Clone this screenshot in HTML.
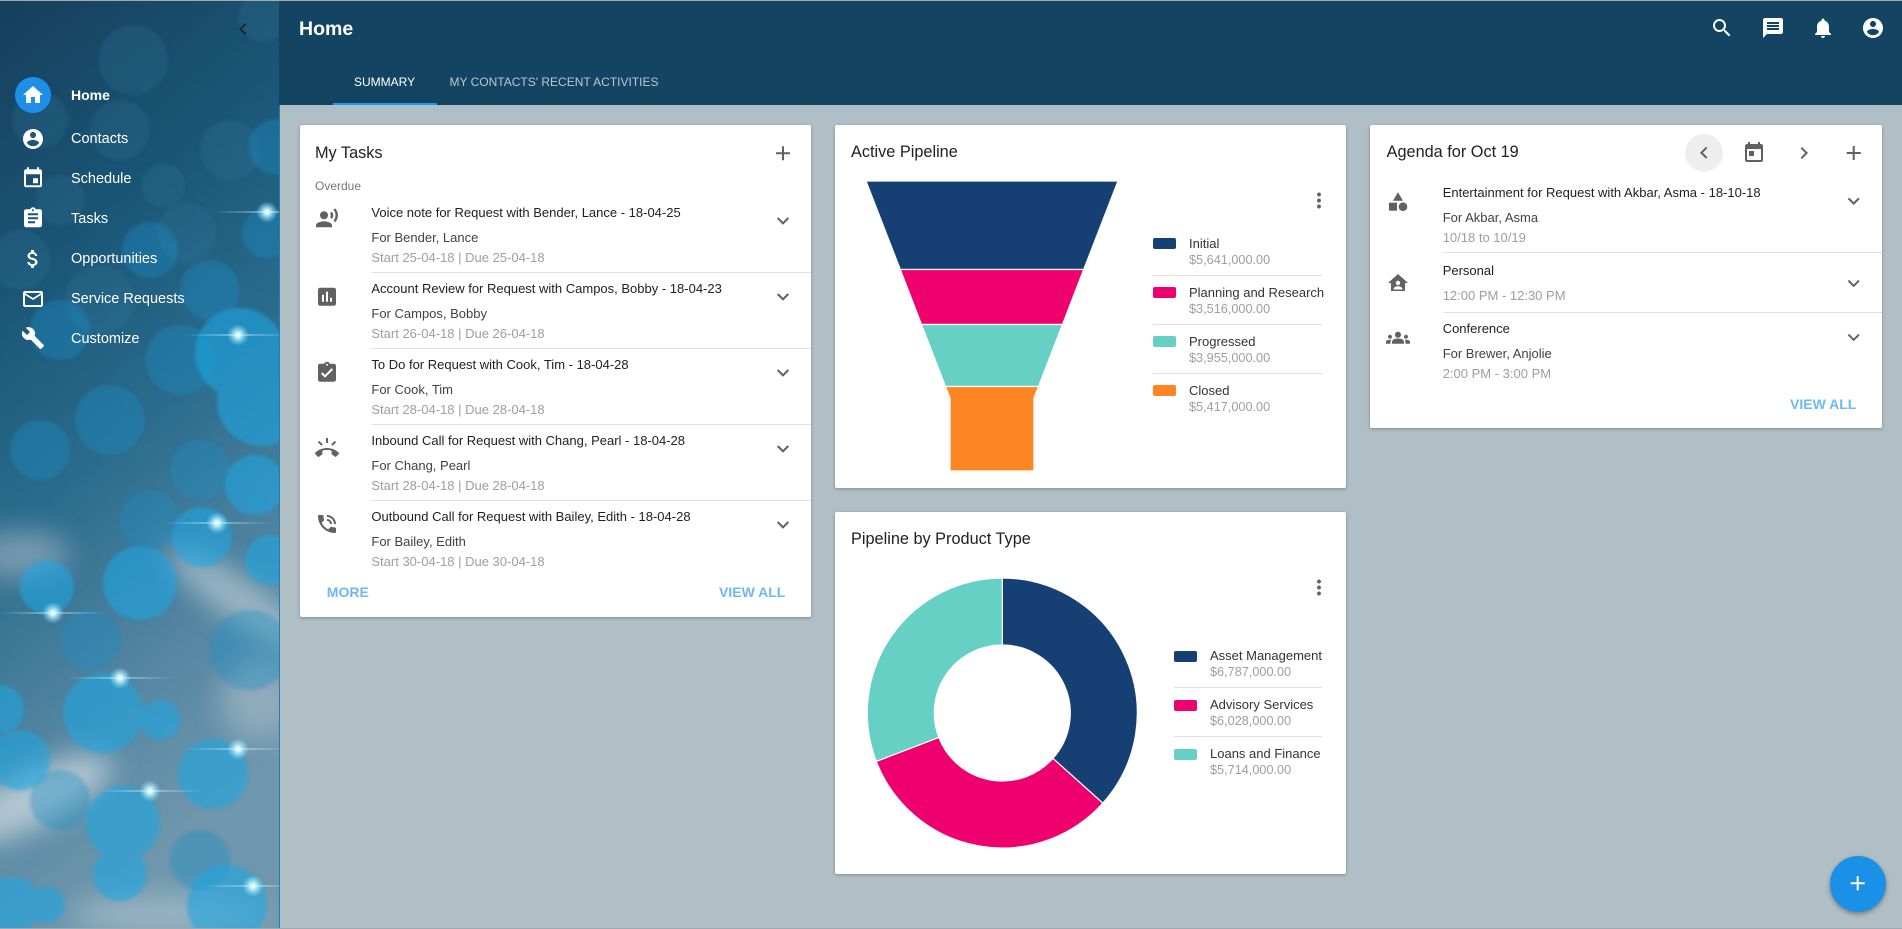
<!DOCTYPE html>
<html><head><meta charset="utf-8"><style>
*{box-sizing:border-box}
body{margin:0;width:1902px;height:929px;position:relative;overflow:hidden;background:#b0bec5;font-family:"Liberation Sans",Arial,sans-serif}
.t{position:absolute;line-height:1;white-space:nowrap}
.card{position:absolute;background:#fff;border-radius:2px;box-shadow:0 1px 3px rgba(0,0,0,.28)}
.ttl{font-size:16.3px;color:#212121}
.tt{font-size:13px;color:#212121}
.sub{font-size:13px;color:#424242}
.gr{font-size:13px;color:#9e9e9e}
.lg{font-size:13px;color:#333}
.lv{font-size:12.7px;color:#9e9e9e}
.btn{font-size:14px;font-weight:bold;color:#6cb8f2}
.nav{font-size:14.5px;color:#fff}
.div{position:absolute;height:1px;background:#e0e0e0}
</style></head><body>

<svg width="280" height="929" style="position:absolute;left:0;top:0" xmlns="http://www.w3.org/2000/svg">
<defs>
<linearGradient id="sbg" x1="0" y1="0" x2="0.25" y2="1">
<stop offset="0" stop-color="#163f5c"/>
<stop offset="0.3" stop-color="#1a5576"/>
<stop offset="0.55" stop-color="#2b6c8e"/>
<stop offset="0.8" stop-color="#5486a2"/>
<stop offset="1" stop-color="#6f97ad"/>
</linearGradient>
<filter id="bl" x="-50%" y="-50%" width="200%" height="200%"><feGaussianBlur stdDeviation="14"/></filter>
<filter id="sb" x="-20%" y="-20%" width="140%" height="140%"><feGaussianBlur stdDeviation="1.8"/></filter>
<radialGradient id="star"><stop offset="0" stop-color="#ffffff"/><stop offset="0.25" stop-color="#d8fbff" stop-opacity="0.9"/><stop offset="1" stop-color="#7fe6ff" stop-opacity="0"/></radialGradient>
<linearGradient id="ray" x1="0" y1="0" x2="1" y2="0"><stop offset="0" stop-color="#bff4ff" stop-opacity="0"/><stop offset="0.5" stop-color="#e8fdff" stop-opacity="0.6"/><stop offset="1" stop-color="#bff4ff" stop-opacity="0"/></linearGradient>
</defs>
<rect width="280" height="929" fill="url(#sbg)"/>
<g filter="url(#bl)" opacity="0.75">
<ellipse cx="30" cy="800" rx="90" ry="28" transform="rotate(-25 30 800)" fill="#d0dce3"/>
<ellipse cx="240" cy="600" rx="90" ry="20" transform="rotate(35 240 600)" fill="#b8c8d2"/>
<ellipse cx="20" cy="555" rx="50" ry="25" fill="#8fa8b8"/>
<ellipse cx="170" cy="915" rx="100" ry="20" fill="#a9bfcc"/>
<ellipse cx="260" cy="700" rx="40" ry="40" fill="#9fb4c2"/>
</g>
<g filter="url(#sb)">
<g fill="#3a7aa0" opacity="0.22">
<circle cx="133" cy="60" r="35"/><circle cx="263" cy="17" r="25"/><circle cx="230" cy="150" r="30"/><circle cx="60" cy="200" r="25"/><circle cx="163" cy="185" r="22"/><circle cx="120" cy="130" r="30"/><circle cx="20" cy="260" r="30"/><circle cx="187" cy="233" r="30"/><circle cx="100" cy="300" r="35"/><circle cx="40" cy="120" r="28"/>
</g>
<g fill="#1f8fc6" opacity="0.38">
<circle cx="277" cy="147" r="28"/><circle cx="267" cy="233" r="25"/><circle cx="150" cy="250" r="28"/><circle cx="210" cy="290" r="30"/><circle cx="60" cy="330" r="30"/><circle cx="180" cy="360" r="35"/><circle cx="110" cy="420" r="35"/><circle cx="40" cy="450" r="30"/><circle cx="200" cy="470" r="30"/><circle cx="150" cy="520" r="30"/><circle cx="90" cy="640" r="30"/><circle cx="250" cy="650" r="40"/><circle cx="60" cy="800" r="30"/><circle cx="200" cy="860" r="30"/>
</g>
<g fill="#1ea6e2" opacity="0.6">
<circle cx="240" cy="353" r="45"/><circle cx="262" cy="401" r="45"/><circle cx="255" cy="485" r="30"/><circle cx="202" cy="537" r="30"/><circle cx="140" cy="583" r="37"/><circle cx="47" cy="587" r="27"/><circle cx="0" cy="709" r="24"/><circle cx="103" cy="713" r="40"/><circle cx="160" cy="720" r="20"/><circle cx="213" cy="774" r="35"/><circle cx="123" cy="823" r="37"/><circle cx="120" cy="874" r="27"/><circle cx="227" cy="905" r="40"/><circle cx="13" cy="905" r="28"/><circle cx="47" cy="905" r="18"/><circle cx="270" cy="560" r="25"/><circle cx="20" cy="760" r="30"/>
</g>
</g>
<g>
<g transform="translate(267,212)"><rect x="-55" y="-0.75" width="110" height="1.5" fill="url(#ray)"/><circle r="11" fill="url(#star)"/></g>
<g transform="translate(238,335)"><rect x="-55" y="-0.75" width="110" height="1.5" fill="url(#ray)"/><circle r="11" fill="url(#star)"/></g>
<g transform="translate(217,523)"><rect x="-55" y="-0.75" width="110" height="1.5" fill="url(#ray)"/><circle r="11" fill="url(#star)"/></g>
<g transform="translate(53,613)"><rect x="-55" y="-0.75" width="110" height="1.5" fill="url(#ray)"/><circle r="11" fill="url(#star)"/></g>
<g transform="translate(120,678)"><rect x="-55" y="-0.75" width="110" height="1.5" fill="url(#ray)"/><circle r="11" fill="url(#star)"/></g>
<g transform="translate(238,749)"><rect x="-55" y="-0.75" width="110" height="1.5" fill="url(#ray)"/><circle r="11" fill="url(#star)"/></g>
<g transform="translate(150,791)"><rect x="-55" y="-0.75" width="110" height="1.5" fill="url(#ray)"/><circle r="11" fill="url(#star)"/></g>
<g transform="translate(253,886)"><rect x="-55" y="-0.75" width="110" height="1.5" fill="url(#ray)"/><circle r="11" fill="url(#star)"/></g>
</g>
<rect x="279" y="105" width="1" height="824" fill="#1f7fb0"/>
</svg>

<div style="position:absolute;left:279px;top:0;width:1623px;height:105px;background:#134562"></div>
<div style="position:absolute;left:0;top:0;width:1902px;height:1px;background:#a8a8a8"></div>
<div style="position:absolute;left:333px;top:103px;width:104px;height:2px;background:#2196f3"></div>
<div style="position:absolute;left:0;top:928px;width:1902px;height:1px;background:#9fa9ae"></div>

<div class="card" style="left:300px;top:125px;width:511px;height:492px"></div>
<div class="card" style="left:835px;top:125px;width:511px;height:363px"></div>
<div class="card" style="left:835px;top:512px;width:511px;height:362px"></div>
<div class="card" style="left:1370px;top:125px;width:512px;height:303px"></div>

<div style="position:absolute;left:1830px;top:856px;width:56px;height:56px;border-radius:50%;background:#1a91e6;box-shadow:0 2px 5px rgba(0,0,0,.35)"></div>

<!-- dividers -->
<div class="div" style="left:371px;top:272px;width:440px"></div>
<div class="div" style="left:371px;top:348px;width:440px"></div>
<div class="div" style="left:371px;top:424px;width:440px"></div>
<div class="div" style="left:371px;top:500px;width:440px"></div>
<div class="div" style="left:1153px;top:275px;width:169px"></div>
<div class="div" style="left:1153px;top:324px;width:169px"></div>
<div class="div" style="left:1153px;top:373px;width:169px"></div>
<div class="div" style="left:1174px;top:687px;width:148px"></div>
<div class="div" style="left:1174px;top:736px;width:148px"></div>
<div class="div" style="left:1443px;top:252px;width:439px"></div>
<div class="div" style="left:1443px;top:312px;width:439px"></div>

<svg width="1902" height="929" style="position:absolute;left:0;top:0" xmlns="http://www.w3.org/2000/svg">
<!-- sidebar icons -->
<circle cx="33" cy="95" r="18" fill="#1e8fe8"/>
<g fill="#fff">
<path transform="translate(21,83)" d="M10 20v-6h4v6h5v-8h3L12 3 2 12h3v8z"/>
<path transform="translate(21,127)" d="M12 2C6.48 2 2 6.48 2 12s4.48 10 10 10 10-4.48 10-10S17.52 2 12 2zm0 3c1.66 0 3 1.34 3 3s-1.34 3-3 3-3-1.34-3-3 1.34-3 3-3zm0 14.2c-2.5 0-4.71-1.28-6-3.22.03-1.99 4-3.08 6-3.08 1.99 0 5.970 1.09 6 3.08-1.29 1.94-3.5 3.22-6 3.22z"/>
<path transform="translate(21,166.3)" d="M17 12h-5v5h5v-5zM16 1v2H8V1H6v2H5c-1.11 0-1.99.9-1.99 2L3 19c0 1.1.89 2 2 2h14c1.1 0 2-.9 2-2V5c0-1.1-.9-2-2-2h-1V1h-2zm3 18H5V8h14v11z"/>
<path transform="translate(21,206.3)" d="M19 3h-4.18C14.4 1.84 13.3 1 12 1c-1.3 0-2.4.84-2.82 2H5c-1.1 0-2 .9-2 2v14c0 1.1.9 2 2 2h14c1.1 0 2-.9 2-2V5c0-1.1-.9-2-2-2zm-7 0c.55 0 1 .45 1 1s-.45 1-1 1-1-.45-1-1 .45-1 1-1zm2 14H7v-2h7v2zm3-4H7v-2h10v2zm0-4H7V7h10v2z"/>
<path transform="translate(21,247)" d="M11.8 10.9c-2.27-.59-3-1.2-3-2.15 0-1.09 1.01-1.850 2.7-1.85 1.78 0 2.44.85 2.5 2.1h2.21c-.07-1.72-1.12-3.3-3.21-3.81V3h-3v2.16c-1.94.42-3.5 1.68-3.5 3.610 0 2.31 1.91 3.46 4.7 4.13 2.5.6 3 1.48 3 2.41 0 .69-.49 1.79-2.7 1.79-2.06 0-2.87-.92-2.98-2.1h-2.2c.12 2.19 1.76 3.42 3.68 3.83V21h3v-2.15c1.95-.37 3.5-1.5 3.5-3.55 0-2.84-2.43-3.81-4.7-4.4z"/>
<path transform="translate(21,287)" d="M20 4H4c-1.1 0-1.99.9-1.99 2L2 18c0 1.1.9 2 2 2h16c1.1 0 2-.9 2-2V6c0-1.1-.9-2-2-2zm0 14H4V8l8 5 8-5v10zm-8-7L4 6h16l-8 5z"/>
<path transform="translate(21,326)" d="M22.7 19l-9.1-9.1c.9-2.3.4-5-1.5-6.9-2-2-5-2.4-7.4-1.3L9 6 6 9 1.6 4.7C.4 7.1.9 10.1 2.9 12.1c1.9 1.9 4.6 2.4 6.9 1.5l9.1 9.1c.4.4 1 .4 1.4 0l2.3-2.3c.5-.4.5-1.1.1-1.4z"/>
<!-- header icons -->
<path transform="translate(1710,16)" d="M15.5 14h-.79l-.28-.27C15.41 12.59 16 11.11 16 9.5 16 5.91 13.09 3 9.5 3S3 5.91 3 9.5 5.91 16 9.5 16c1.61 0 3.090-.59 4.23-1.57l.27.28v.79l5 4.99L20.49 19l-4.99-5zm-6 0C7.01 14 5 11.99 5 9.5S7.01 5 9.5 5 14 7.01 14 9.5 11.99 14 9.5 14z"/>
<path transform="translate(1761,16)" d="M20 2H4c-1.1 0-1.99.9-1.99 2L2 22l4-4h14c1.1 0 2-.9 2-2V4c0-1.1-.9-2-2-2zM18 14H6v-2h12v2zm0-3H6V9h12v2zm0-3H6V6h12v2z"/>
<path transform="translate(1811,16)" d="M12 22c1.1 0 2-.9 2-2h-4c0 1.1.89 2 2 2zm6-6v-5c0-3.07-1.64-5.64-4.5-6.32V4c0-.83-.67-1.5-1.5-1.5s-1.5.67-1.5 1.5v.68C7.63 5.36 6 7.92 6 11v5l-2 2v1h16v-1l-2-2z"/>
<path transform="translate(1861,16)" d="M12 2C6.48 2 2 6.48 2 12s4.48 10 10 10 10-4.48 10-10S17.52 2 12 2zm0 3c1.66 0 3 1.34 3 3s-1.34 3-3 3-3-1.34-3-3 1.34-3 3-3zm0 14.2c-2.5 0-4.71-1.28-6-3.22.03-1.99 4-3.08 6-3.08 1.99 0 5.97 1.09 6 3.08-1.29 1.94-3.5 3.22-6 3.22z"/>
<path transform="translate(1845.7,871.3)" d="M19 13h-6v6h-2v-6H5v-2h6V5h2v6h6v2z"/>
</g>
<path transform="translate(231,17)" fill="#1a2530" d="M15.41 7.41L14 6l-6 6 6 6 1.41-1.41L10.83 12z"/>

<!-- card1 icons -->
<g fill="#616161">
<path transform="translate(771,141.3)" d="M19 13h-6v6h-2v-6H5v-2h6V5h2v6h6v2z"/>
<path transform="translate(315,206.3)" d="M9 13c2.21 0 4-1.79 4-4s-1.79-4-4-4-4 1.79-4 4 1.79 4 4 4zm0 2c-2.67 0-8 1.34-8 4v2h16v-2c0-2.66-5.33-4-8-4zm7.76-9.64l-1.68 1.69c.84 1.18.84 2.71 0 3.89l1.68 1.69c2.02-2.02 2.02-5.07 0-7.27zM20.07 2l-1.630 1.63c2.77 3.02 2.77 7.56 0 10.74L20.07 16c3.9-3.89 3.91-9.95 0-14z"/>
<path transform="translate(315,284.7)" d="M19 3H5c-1.1 0-2 .9-2 2v14c0 1.1.9 2 2 2h14c1.1 0 2-.9 2-2V5c0-1.1-.9-2-2-2zM9 17H7v-7h2v7zm4 0h-2V7h2v10zm4 0h-2v-4h2v4z"/>
<path transform="translate(315,360.7)" d="M19 3h-4.18C14.4 1.84 13.3 1 12 1c-1.3 0-2.4.84-2.82 2H5c-1.1 0-2 .9-2 2v14c0 1.1.9 2 2 2h14c1.1 0 2-.9 2-2V5c0-1.1-.9-2-2-2zm-7 0c.55 0 1 .45 1 1s-.45 1-1 1-1-.45-1-1 .45-1 1-1zm-2 14l-4-4 1.41-1.41L10 14.17l6.59-6.59L18 9l-8 8z"/>
<path transform="translate(315,436)" d="M23.71 16.67C20.66 13.78 16.54 12 12 12 7.46 12 3.34 13.78.29 16.67c-.18.18-.29.43-.29.71 0 .28.11.53.29.71l2.48 2.48c.18.18.43.29.71.29.27 0 .52-.11.7-.28.79-.74 1.69-1.36 2.66-1.85.33-.16.56-.5.56-.9v-3.1c1.45-.48 3-.73 4.6-.73s3.15.25 4.6.72v3.1c0 .39.23.74.56.9.98.49 1.87 1.12 2.66 1.85.18.18.43.28.7.28.28 0 .53-.11.71-.29l2.48-2.48c.18-.18.29-.43.29-.71 0-.27-.11-.52-.29-.7zM21.16 6.26l-1.41-1.41-3.56 3.55 1.41 1.41s3.45-3.52 3.56-3.550zM13 2h-2v5h2V2zM6.4 9.81L7.81 8.4 4.26 4.84 2.84 6.26c.11.03 3.56 3.55 3.56 3.55z"/>
<path transform="translate(315,512)" d="M20 15.5c-1.25 0-2.45-.2-3.57-.57-.35-.11-.74-.03-1.02.24l-2.2 2.2c-2.83-1.44-5.15-3.75-6.59-6.59l2.2-2.21c.28-.26.36-.65.25-1C8.7 6.45 8.5 5.25 8.5 4c0-.55-.45-1-1-1H4c-.55 0-1 .45-1 1 0 9.39 7.61 17 17 17 .55 0 1-.45 1-1v-3.5c0-.55-.45-1-1-1zM19 12h2c0-4.97-4.03-9-9-9v2c3.87 0 7 3.13 7 7zm-4 0h2c0-2.76-2.24-5-5-5v2c1.66 0 3 1.34 3 3z"/>
<path transform="translate(771,208.7)" d="M16.59 8.59L12 13.17 7.41 8.59 6 10l6 6 6-6z"/>
<path transform="translate(771,284.7)" d="M16.59 8.59L12 13.17 7.41 8.59 6 10l6 6 6-6z"/>
<path transform="translate(771,360.7)" d="M16.59 8.59L12 13.17 7.41 8.59 6 10l6 6 6-6z"/>
<path transform="translate(771,436.7)" d="M16.59 8.59L12 13.17 7.41 8.59 6 10l6 6 6-6z"/>
<path transform="translate(771,512.7)" d="M16.59 8.59L12 13.17 7.41 8.59 6 10l6 6 6-6z"/>
<!-- kebabs -->
<path transform="translate(1307,188.5)" d="M12 8c1.1 0 2-.9 2-2s-.9-2-2-2-2 .9-2 2 .9 2 2 2zm0 2c-1.1 0-2 .9-2 2s.9 2 2 2 2-.9 2-2-.9-2-2-2zm0 6c-1.1 0-2 .9-2 2s.9 2 2 2 2-.9 2-2-.9-2-2-2z"/>
<path transform="translate(1307,575.5)" d="M12 8c1.1 0 2-.9 2-2s-.9-2-2-2-2 .9-2 2 .9 2 2 2zm0 2c-1.1 0-2 .9-2 2s.9 2 2 2 2-.9 2-2-.9-2-2-2zm0 6c-1.1 0-2 .9-2 2s.9 2 2 2 2-.9 2-2-.9-2-2-2z"/>
</g>

<!-- agenda header controls -->
<circle cx="1704" cy="152.7" r="19" fill="#eeeeee"/>
<g fill="#616161">
<path transform="translate(1692,140.7)" d="M15.41 7.41L14 6l-6 6 6 6 1.41-1.41L10.83 12z"/>
<path transform="translate(1742,141)" d="M19 3h-1V1h-2v2H8V1H6v2H5c-1.11 0-1.99.9-1.99 2L3 19c0 1.1.89 2 2 2h14c1.1 0 2-.9 2-2V5c0-1.1-.9-2-2-2zm0 16H5V8h14v11zM7 10h5v5H7z"/>
<path transform="translate(1792,141)" d="M10 6L8.59 7.41 13.17 12l-4.58 4.59L10 18l6-6z"/>
<path transform="translate(1841.7,141)" d="M19 13h-6v6h-2v-6H5v-2h6V5h2v6h6v2z"/>
<path transform="translate(1841.7,189)" d="M16.59 8.59L12 13.17 7.41 8.59 6 10l6 6 6-6z"/>
<path transform="translate(1841.7,271.3)" d="M16.59 8.59L12 13.17 7.41 8.59 6 10l6 6 6-6z"/>
<path transform="translate(1841.7,325.3)" d="M16.59 8.59L12 13.17 7.41 8.59 6 10l6 6 6-6z"/>
<g transform="translate(1386,189.7)"><path d="M12 2.5l-5 8.5h10z"/><circle cx="17" cy="17" r="4.3"/><rect x="3" y="13" width="8" height="8"/></g>
<g transform="translate(1386,271)"><path d="M12 3L2 12h3v8h14v-8h3L12 3z"/><circle cx="12" cy="12" r="2.2" fill="#fff"/><path d="M7.5 18.5c0-2.2 2.5-3.2 4.5-3.2s4.5 1 4.5 3.2z" fill="#fff"/></g>
<path transform="translate(1386,325.7)" d="M12 12.75c1.63 0 3.07.39 4.24.9 1.08.48 1.76 1.56 1.76 2.73V18H6v-1.61c0-1.18.68-2.26 1.76-2.73 1.17-.52 2.61-.91 4.24-.91zM4 13c1.1 0 2-.9 2-2s-.9-2-2-2-2 .9-2 2 .9 2 2 2zm1.13 1.1C4.76 14.04 4.39 14 4 14c-.99 0-1.93.21-2.78.58C.48 14.9 0 15.62 0 16.43V18h4.5v-1.61c0-.83.23-1.61.63-2.29zM20 13c1.1 0 2-.9 2-2s-.9-2-2-2-2 .9-2 2 .9 2 2 2zm4 3.43c0-.81-.48-1.53-1.22-1.85-.85-.37-1.79-.58-2.78-.58-.39 0-.76.04-1.13.1.4.68.63 1.46.63 2.29V18H24v-1.57zM12 6c1.66 0 3 1.34 3 3s-1.34 3-3 3-3-1.34-3-3 1.34-3 3-3z"/>
</g>

<!-- funnel -->
<g stroke="#fff" stroke-width="1.2">
<polygon points="866,181 1118,181 1083.7,269.5 900.3,269.5" fill="#164073"/>
<polygon points="900.3,269.5 1083.7,269.5 1062.5,324.5 921.5,324.5" fill="#ee006e"/>
<polygon points="921.5,324.5 1062.5,324.5 1038.5,386.5 945.5,386.5" fill="#66d0c4"/>
<polygon points="945.5,386.5 1038.5,386.5 1034,398 1034,471 950,471 950,398" fill="#fd8524"/>
</g>
<!-- legend swatches -->
<rect x="1153" y="238" width="23" height="11" rx="2" fill="#164073"/>
<rect x="1153" y="287" width="23" height="11" rx="2" fill="#ee006e"/>
<rect x="1153" y="336" width="23" height="11" rx="2" fill="#66d0c4"/>
<rect x="1153" y="385" width="23" height="11" rx="2" fill="#fd8524"/>

<!-- donut -->
<g stroke="#fff" stroke-width="1.2">
<path d="M1002.3,578 A135,135 0 0 1 1102.82,803.12 L1052.93,758.39 A68,68 0 0 0 1002.3,645 Z" fill="#164073"/>
<path d="M1102.82,803.12 A135,135 0 0 1 876.28,761.42 L938.83,737.39 A68,68 0 0 0 1052.93,758.39 Z" fill="#ee006e"/>
<path d="M876.28,761.42 A135,135 0 0 1 1002.3,578 L1002.3,645 A68,68 0 0 0 938.83,737.39 Z" fill="#66d0c4"/>
</g>
<rect x="1174" y="651" width="23" height="11" rx="2" fill="#164073"/>
<rect x="1174" y="700" width="23" height="11" rx="2" fill="#ee006e"/>
<rect x="1174" y="749" width="23" height="11" rx="2" fill="#66d0c4"/>
</svg>

<!-- sidebar text -->
<div class="t" style="left:71px;top:87.5px;font-size:14px;font-weight:bold;color:#fff">Home</div>
<div class="t nav" style="left:71px;top:131.7px">Contacts</div>
<div class="t nav" style="left:71px;top:171.7px">Schedule</div>
<div class="t nav" style="left:71px;top:211.7px">Tasks</div>
<div class="t nav" style="left:71px;top:251.7px">Opportunities</div>
<div class="t nav" style="left:71px;top:291.7px">Service Requests</div>
<div class="t nav" style="left:71px;top:331.7px">Customize</div>

<!-- header text -->
<div class="t" style="left:299px;top:19.5px;font-size:19.5px;font-weight:bold;color:#fff">Home</div>
<div class="t" style="left:354px;top:75.8px;font-size:12px;color:#fff">SUMMARY</div>
<div class="t" style="left:449.5px;top:75.8px;font-size:12px;color:#b8c7d3">MY CONTACTS' RECENT ACTIVITIES</div>

<!-- card 1 -->
<div class="t ttl" style="left:315px;top:144.5px">My Tasks</div>
<div class="t" style="left:315px;top:179.8px;font-size:12px;color:#757575">Overdue</div>

<div class="t tt" style="left:371.4px;top:205.7px">Voice note for Request with Bender, Lance - 18-04-25</div>
<div class="t sub" style="left:371.4px;top:230.7px">For Bender, Lance</div>
<div class="t gr" style="left:371.4px;top:250.7px">Start 25-04-18 | Due 25-04-18</div>

<div class="t tt" style="left:371.4px;top:281.7px">Account Review for Request with Campos, Bobby - 18-04-23</div>
<div class="t sub" style="left:371.4px;top:306.7px">For Campos, Bobby</div>
<div class="t gr" style="left:371.4px;top:326.7px">Start 26-04-18 | Due 26-04-18</div>

<div class="t tt" style="left:371.4px;top:357.7px">To Do for Request with Cook, Tim - 18-04-28</div>
<div class="t sub" style="left:371.4px;top:382.7px">For Cook, Tim</div>
<div class="t gr" style="left:371.4px;top:402.7px">Start 28-04-18 | Due 28-04-18</div>

<div class="t tt" style="left:371.4px;top:433.7px">Inbound Call for Request with Chang, Pearl - 18-04-28</div>
<div class="t sub" style="left:371.4px;top:458.7px">For Chang, Pearl</div>
<div class="t gr" style="left:371.4px;top:478.7px">Start 28-04-18 | Due 28-04-18</div>

<div class="t tt" style="left:371.4px;top:509.7px">Outbound Call for Request with Bailey, Edith - 18-04-28</div>
<div class="t sub" style="left:371.4px;top:534.7px">For Bailey, Edith</div>
<div class="t gr" style="left:371.4px;top:554.7px">Start 30-04-18 | Due 30-04-18</div>

<div class="t btn" style="left:326.8px;top:584.8px">MORE</div>
<div class="t btn" style="left:719px;top:584.8px">VIEW ALL</div>

<!-- card 2 -->
<div class="t ttl" style="left:851px;top:144.2px">Active Pipeline</div>
<div class="t lg" style="left:1189px;top:237px">Initial</div>
<div class="t lv" style="left:1189px;top:254.2px">$5,641,000.00</div>
<div class="t lg" style="left:1189px;top:286px">Planning and Research</div>
<div class="t lv" style="left:1189px;top:303.2px">$3,516,000.00</div>
<div class="t lg" style="left:1189px;top:335px">Progressed</div>
<div class="t lv" style="left:1189px;top:352.2px">$3,955,000.00</div>
<div class="t lg" style="left:1189px;top:384px">Closed</div>
<div class="t lv" style="left:1189px;top:401.2px">$5,417,000.00</div>

<!-- card 3 -->
<div class="t ttl" style="left:851px;top:531.2px">Pipeline by Product Type</div>
<div class="t lg" style="left:1210px;top:649px">Asset Management</div>
<div class="t lv" style="left:1210px;top:666.2px">$6,787,000.00</div>
<div class="t lg" style="left:1210px;top:698px">Advisory Services</div>
<div class="t lv" style="left:1210px;top:715.2px">$6,028,000.00</div>
<div class="t lg" style="left:1210px;top:747px">Loans and Finance</div>
<div class="t lv" style="left:1210px;top:764.2px">$5,714,000.00</div>

<!-- card 4 -->
<div class="t ttl" style="left:1386.6px;top:144.2px">Agenda for Oct 19</div>
<div class="t tt" style="left:1442.7px;top:185.7px">Entertainment for Request with Akbar, Asma - 18-10-18</div>
<div class="t sub" style="left:1442.7px;top:210.7px">For Akbar, Asma</div>
<div class="t gr" style="left:1442.7px;top:230.7px">10/18 to 10/19</div>
<div class="t tt" style="left:1442.7px;top:264px">Personal</div>
<div class="t gr" style="left:1442.7px;top:289px">12:00 PM - 12:30 PM</div>
<div class="t tt" style="left:1442.7px;top:321.7px">Conference</div>
<div class="t sub" style="left:1442.7px;top:346.7px">For Brewer, Anjolie</div>
<div class="t gr" style="left:1442.7px;top:366.7px">2:00 PM - 3:00 PM</div>
<div class="t btn" style="left:1790px;top:397.2px">VIEW ALL</div>

</body></html>
